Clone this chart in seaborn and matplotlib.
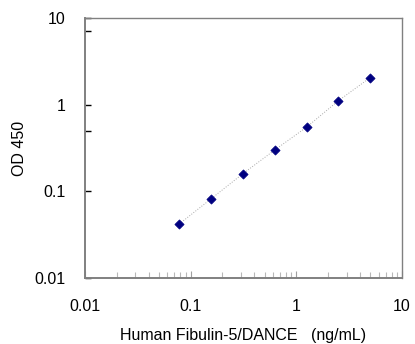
import numpy as np
import pandas as pd
import seaborn as sns
import matplotlib.pyplot as plt
from matplotlib.ticker import FixedLocator, NullFormatter

conc = [0.078, 0.156, 0.3125, 0.625, 1.25, 2.5, 5.0]
od = [0.042, 0.082, 0.16, 0.30, 0.55, 1.11, 2.05]
x_ticks = [0.01, 0.1, 1, 10]
y_ticks = [0.01, 0.1, 1, 10]
x_tick_labels = ["0.01", "0.1", "1", "10"]
y_tick_labels = ["0.01", "0.1", "1", "10"]

df = pd.DataFrame({"conc": conc, "od": od})

sns.set_style("white")
plt.rcParams["font.family"] = ["Liberation Sans", "DejaVu Sans"]
plt.rcParams["text.color"] = "black"
plt.rcParams["xtick.color"] = "black"
plt.rcParams["ytick.color"] = "black"
plt.rcParams["axes.labelcolor"] = "black"

fig = plt.figure(figsize=(4.15, 3.44), dpi=100)
ax = fig.add_axes([85 / 415, 1 - 278 / 344, 317 / 415, 260 / 344])

sns.lineplot(data=df, x="conc", y="od", ax=ax, color="#a8a8a8", linewidth=0.7, linestyle=":")
sns.scatterplot(data=df, x="conc", y="od", ax=ax, marker="D", color="#000080",
                s=22, edgecolor="#000080", linewidth=0.5, zorder=3)

ax.set_xscale("log")
ax.set_yscale("log")
ax.set_xlim(0.01, 10)
ax.set_ylim(0.01, 10)

ax.xaxis.set_major_locator(FixedLocator(x_ticks))
ax.set_xticklabels(x_tick_labels)
ax.xaxis.set_minor_locator(FixedLocator([m * d for d in [0.01, 0.1, 1] for m in range(2, 10)]))
ax.xaxis.set_minor_formatter(NullFormatter())
ax.yaxis.set_major_locator(FixedLocator(y_ticks))
ax.set_yticklabels(y_tick_labels)
ax.yaxis.set_minor_locator(FixedLocator([7, 0.5]))
ax.yaxis.set_minor_formatter(NullFormatter())

ax.tick_params(bottom=True, left=True, which="both")
ax.tick_params(axis="x", which="major", direction="in", length=5, width=0.8,
               color="#a0a0a0", labelcolor="black", labelsize=11.5, pad=15)
ax.tick_params(axis="x", which="minor", direction="in", length=4, width=0.8, color="#b8b8b8")
ax.tick_params(axis="y", which="major", direction="in", length=4, width=1, color="black",
               labelcolor="black", labelsize=11.5, pad=14)
ax.tick_params(axis="y", which="minor", direction="in", length=4, width=1, color="black")

for side in ["top", "right", "left", "bottom"]:
    ax.spines[side].set_color("#808080")
    ax.spines[side].set_linewidth(1.0)
ax.spines["left"].set_linewidth(1.4)
ax.spines["bottom"].set_linewidth(1.4)

ax.set_xlabel("Human Fibulin-5/DANCE   (ng/mL)", fontsize=11.5, labelpad=10)
ax.set_ylabel("OD 450", fontsize=11.5, labelpad=5)

fig.savefig("out.png", dpi=100)
